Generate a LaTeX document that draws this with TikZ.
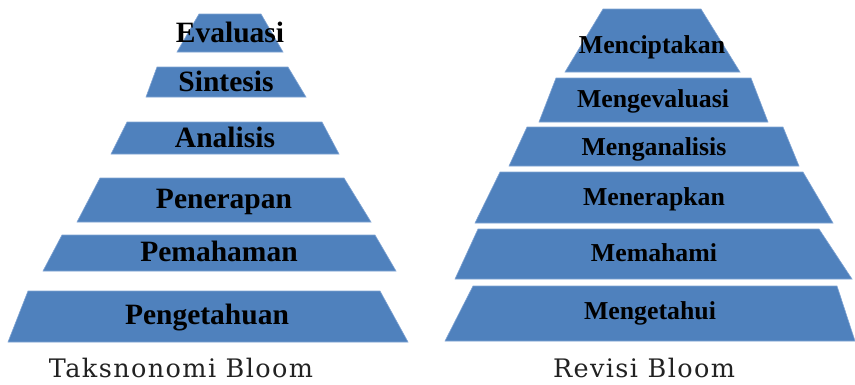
\documentclass[tikz,border=0pt]{standalone}
\usepackage{fontspec}
\setmainfont{Liberation Serif}
\newfontfamily\capfont[LetterSpace=5.5]{DejaVu Serif}
\definecolor{tierblue}{HTML}{4F81BD}
\definecolor{tieredge}{HTML}{7FA3D3}
\definecolor{captext}{HTML}{222222}
\newcommand\tierpath[7]{%
  \path[tier] (#1,#5) -- (#2,#5) -- (#4,#6) -- (#3,#6) -- cycle;
}
\tikzset{
  tier/.style={fill=tierblue, draw=tieredge, line width=0.6pt},
  leftlbl/.style={anchor=base, inner sep=0pt, font=\fontsize{29.5}{32}\selectfont\bfseries},
  rightlbl/.style={anchor=base, inner sep=0pt, font=\fontsize{25.8}{28}\selectfont\bfseries},
  captionlbl/.style={anchor=base, inner sep=0pt, text=captext, font=\capfont\fontsize{25.5}{28}\selectfont}
}
\begin{document}
\begin{tikzpicture}[x=1pt,y=-1pt]
\useasboundingbox (0,0) rectangle (855,384);
% left pyramid
\tierpath{199}{261}{177}{283}{14}{52}{}
\tierpath{157}{288}{146}{306}{67}{97}{}
\tierpath{127}{322}{111}{339}{122}{154}{}
\tierpath{100}{344}{77}{371}{178}{222}{}
\tierpath{62}{375}{43}{396}{235}{271}{}
\tierpath{28}{380}{8}{408}{291}{342}{}
\node[leftlbl] (l1) at (230,42) {Evaluasi};
\node[leftlbl] (l2) at (226,91) {Sintesis};
\node[leftlbl] (l3) at (225,147) {Analisis};
\node[leftlbl] (l4) at (224,208) {Penerapan};
\node[leftlbl] (l5) at (219,261) {Pemahaman};
\node[leftlbl] (l6) at (207,324) {Pengetahuan};
% right pyramid
\tierpath{603}{701}{565}{740}{9}{72}{}
\tierpath{556}{751}{539}{768}{78}{122}{}
\tierpath{527}{783}{509}{799}{127}{166}{}
\tierpath{500}{803}{475}{833}{172}{223}{}
\tierpath{478}{819}{455}{852}{229}{279}{}
\tierpath{473}{837}{445}{855}{286}{341}{}
\node[rightlbl] (r1) at (652,53) {Menciptakan};
\node[rightlbl] (r2) at (653,107) {Mengevaluasi};
\node[rightlbl] (r3) at (654,155) {Menganalisis};
\node[rightlbl] (r4) at (654,205) {Menerapkan};
\node[rightlbl] (r5) at (654,261) {Memahami};
\node[rightlbl] (r6) at (650,319) {Mengetahui};
% captions
\node[captionlbl] (c1) at (181,377) {Taksnonomi Bloom};
\node[captionlbl] (c2) at (644,377) {Revisi Bloom};
\end{tikzpicture}
\end{document}
